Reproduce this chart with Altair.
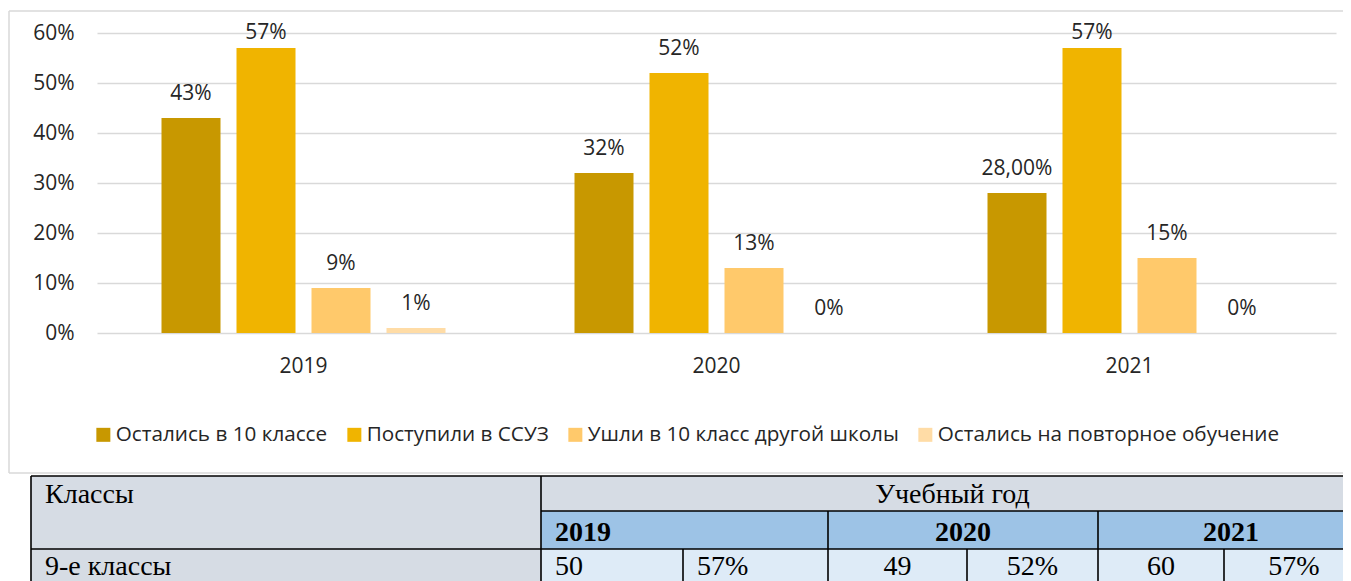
import altair as alt
import pandas as pd

# ---------------- data ----------------
years = ["2019", "2020", "2021"]
series = [
    "Остались в 10 классе",
    "Поступили в ССУЗ",
    "Ушли в 10 класс другой школы",
    "Остались на повторное обучение",
]
values_2019 = [0.43, 0.57, 0.09, 0.01]
values_2020 = [0.32, 0.52, 0.13, 0.00]
values_2021 = [0.28, 0.57, 0.15, 0.00]
labels_2019 = ["43%", "57%", "9%", "1%"]
labels_2020 = ["32%", "52%", "13%", "0%"]
labels_2021 = ["28,00%", "57%", "15%", "0%"]
y_ticks = [0, 0.1, 0.2, 0.3, 0.4, 0.5, 0.6]

table_head = ["Классы", "Учебный год"]
table_years = ["2019", "2020", "2021"]
table_row_label = "9-е классы"
table_counts = ["50", "49", "60"]
table_pcts = ["57%", "52%", "57%"]

# ---------------- styles / layout ----------------
colors = ["#C89800", "#F0B400", "#FFC96B", "#FFDCA6"]
TXT = "#262626"
SANS = "Open Sans"
SERIF = "Liberation Serif, Times New Roman, serif"
PL, PT = 97, 33          # page position of the plot origin
W, H = 1239, 300
RIGHT = 1343             # right edge of the drawing (page px)
BOTTOM = 581
LABEL_CAP = 0.553        # labels of the tallest bars are kept inside the plot (as Excel does)

rows = []
for yr, vals, labs in zip(years, [values_2019, values_2020, values_2021],
                          [labels_2019, labels_2020, labels_2021]):
    for s, v, l in zip(series, vals, labs):
        rows.append({"year": yr, "series": s, "value": v, "label": l})
df = pd.DataFrame(rows)

x_enc = alt.X("year:N", sort=years, scale=alt.Scale(paddingInner=0, paddingOuter=0),
              axis=alt.Axis(title=None, labelAngle=0, ticks=False, domain=False,
                            labelPadding=22, labelFontSize=21, labelFont=SANS,
                            labelColor=TXT, grid=False))
xo_enc = alt.XOffset("series:N", sort=series,
                     scale=alt.Scale(paddingInner=0.2133, paddingOuter=0.86))
y_scale = alt.Scale(domain=[0, 0.6], nice=False)
y_axis = alt.Axis(title=None, values=y_ticks, format=".0%", ticks=False,
                  domain=False, grid=True, gridColor="#D9D9D9",
                  gridWidth=1.5, labelPadding=23, labelFontSize=21,
                  labelFont=SANS, labelColor=TXT)
y_enc = alt.Y("value:Q", scale=y_scale, axis=y_axis)

bars = alt.Chart(df).mark_bar().encode(
    x=x_enc, xOffset=xo_enc, y=y_enc,
    color=alt.Color("series:N", sort=series,
                    scale=alt.Scale(domain=series, range=colors),
                    legend=alt.Legend(orient="none", direction="horizontal",
                                      legendX=-4, legendY=391, title=None,
                                      symbolType="square", symbolSize=196,
                                      symbolStrokeWidth=0, symbolOpacity=1,
                                      labelFontSize=20.7, labelFont=SANS,
                                      labelColor=TXT, labelLimit=700,
                                      labelOffset=2, columnPadding=16,
                                      padding=0)),
)
texts = alt.Chart(df).transform_calculate(
    lab_y=f"min(datum.value, {LABEL_CAP})"
).mark_text(baseline="alphabetic", dy=-18, fontSize=21,
            font=SANS, color=TXT).encode(
    x=x_enc, xOffset=xo_enc, y=alt.Y("lab_y:Q", scale=y_scale, axis=y_axis),
    text="label:N")
inner = alt.layer(bars, texts)

# chart frame (decoration): top, left and bottom edges
frame_df = pd.DataFrame({
    "x0": [9 - PL, 9 - PL, 9 - PL], "x1": [RIGHT - PL, 9 - PL, RIGHT - PL],
    "y0": [11 - PT, 11 - PT, 473 - PT], "y1": [11 - PT, 473 - PT, 473 - PT]})
frame = alt.Chart(frame_df).mark_rule(color="#D9D9D9", strokeWidth=1.5).encode(
    x=alt.X("x0:Q", scale=None, axis=None), x2="x1:Q",
    y=alt.Y("y0:Q", scale=None, axis=None), y2="y1:Q")

# ---------------- table ----------------
COL = [31, 541, 683, 828, 967, 1098, 1224, 1364]
ROW = [476, 511, 549, 592]
HEAD = "#D6DCE4"
YEARC = "#9DC3E6"
CELL = "#DEEBF7"

def cx(i):
    return min(COL[i], RIGHT) - PL

cells = [
    (0, 1, 0, 2, HEAD), (1, 7, 0, 1, HEAD),
    (1, 3, 1, 2, YEARC), (3, 5, 1, 2, YEARC), (5, 7, 1, 2, YEARC),
    (0, 1, 2, 3, HEAD),
] + [(c, c + 1, 2, 3, CELL) for c in range(1, 7)]
cell_df = pd.DataFrame([{"x0": cx(a), "x1": cx(b),
                         "y0": ROW[r0] - PT, "y1": ROW[r1] - PT, "fill": f}
                        for a, b, r0, r1, f in cells])

hlines = [(0, 7, 0), (1, 7, 1), (0, 7, 2)]
vlines = [(0, 0, 3), (1, 0, 3), (3, 1, 3), (5, 1, 3), (2, 2, 3), (4, 2, 3), (6, 2, 3)]
line_df = pd.DataFrame(
    [{"x0": cx(a), "x1": cx(b), "y0": ROW[r] - PT, "y1": ROW[r] - PT} for a, b, r in hlines]
    + [{"x0": cx(c), "x1": cx(c), "y0": ROW[a] - PT, "y1": ROW[b] - PT} for c, a, b in vlines])

base_line = [503, 541, 575]
tt = []
def add(text, c0, c1, r, align, weight):
    x = COL[c0] + 14 if align == "left" else (COL[c0] + COL[c1]) / 2
    tt.append({"t": text, "x": x - PL, "y": base_line[r] - PT, "al": align, "w": weight})

add(table_head[0], 0, 1, 0, "left", "normal")
add(table_head[1], 1, 7, 0, "center", "normal")
add(table_years[0], 1, 3, 1, "left", "bold")
add(table_years[1], 3, 5, 1, "center", "bold")
add(table_years[2], 5, 7, 1, "center", "bold")
add(table_row_label, 0, 1, 2, "left", "normal")
add(table_counts[0], 1, 2, 2, "left", "normal")
add(table_pcts[0], 2, 3, 2, "left", "normal")
add(table_counts[1], 3, 4, 2, "center", "normal")
add(table_pcts[1], 4, 5, 2, "center", "normal")
add(table_counts[2], 5, 6, 2, "center", "normal")
add(table_pcts[2], 6, 7, 2, "center", "normal")
tdf = pd.DataFrame(tt)

rects = alt.Chart(cell_df).mark_rect().encode(
    x=alt.X("x0:Q", scale=None, axis=None), x2="x1:Q",
    y=alt.Y("y0:Q", scale=None, axis=None), y2="y1:Q",
    fill=alt.Fill("fill:N", scale=None))
lines = alt.Chart(line_df).mark_rule(color="black", strokeWidth=1.6).encode(
    x=alt.X("x0:Q", scale=None, axis=None), x2="x1:Q",
    y=alt.Y("y0:Q", scale=None, axis=None), y2="y1:Q")

def tlayer(align, weight):
    return alt.Chart(tdf).transform_filter(
        (alt.datum.al == align) & (alt.datum.w == weight)
    ).mark_text(align=align, baseline="alphabetic", font=SERIF, fontSize=28,
                fontWeight=weight, color="black").encode(
        x=alt.X("x:Q", scale=None, axis=None),
        y=alt.Y("y:Q", scale=None, axis=None), text="t:N")

table = alt.layer(rects, lines, tlayer("left", "normal"), tlayer("center", "normal"),
                  tlayer("left", "bold"), tlayer("center", "bold"))

chart = alt.layer(frame, inner, table).resolve_scale(
    x="independent", y="independent"
).properties(
    width=W, height=H,
    autosize=alt.AutoSizeParams(type="none"),
    padding={"left": PL - 8, "top": PT - 8, "right": RIGHT - PL - W,
             "bottom": BOTTOM - PT - H},
).configure_view(strokeWidth=0)

chart.save("out.html", embed_options={"renderer": "svg", "actions": False})
